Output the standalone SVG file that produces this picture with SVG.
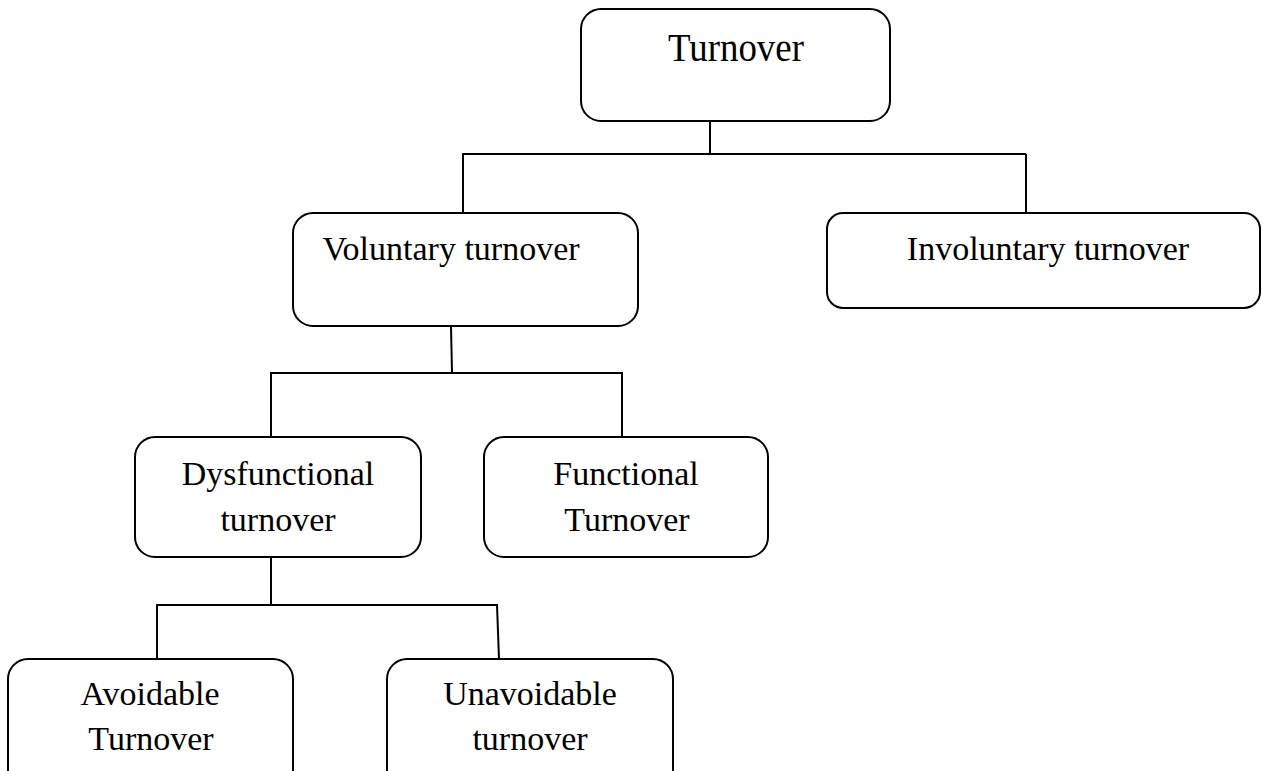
<svg xmlns="http://www.w3.org/2000/svg" width="1263" height="771" viewBox="0 0 1263 771">
<style>
.box{fill:#fff;stroke:#000;stroke-width:2}
.lbl{font-family:"Liberation Serif","Times New Roman",serif;font-size:34px;fill:#000;text-anchor:middle}
.conn line{stroke:#000;stroke-width:2;fill:none}
</style>
<rect width="1263" height="771" fill="#fff"/>
<g class="conn" id="connectors">
<line x1="710" y1="121" x2="710" y2="154"/>
<line x1="462" y1="154" x2="1026" y2="154"/>
<line x1="463" y1="154" x2="463" y2="213"/>
<line x1="1026" y1="154" x2="1026" y2="213"/>
<line x1="451" y1="326" x2="452" y2="373"/>
<line x1="270" y1="373" x2="623" y2="373"/>
<line x1="271" y1="373" x2="271" y2="437"/>
<line x1="622" y1="373" x2="622" y2="437"/>
<line x1="271" y1="557" x2="271" y2="605"/>
<line x1="156" y1="605" x2="498" y2="605"/>
<line x1="157" y1="605" x2="157" y2="659"/>
<line x1="497" y1="605" x2="499" y2="659"/>
</g>
<g id="turnover">
<rect class="box" x="581" y="9" width="309" height="112" rx="20"/>
<text class="lbl" x="0" y="0" transform="translate(736,61) scale(0.9,1)" style="font-size:41px">Turnover</text>
</g>
<g id="voluntary">
<rect class="box" x="293" y="213" width="345" height="113" rx="20"/>
<text class="lbl" x="451" y="260">Voluntary turnover</text>
</g>
<g id="involuntary">
<rect class="box" x="827" y="213" width="433" height="95" rx="16"/>
<text class="lbl" x="1048" y="260">Involuntary turnover</text>
</g>
<g id="dysfunctional">
<rect class="box" x="135" y="437" width="286" height="120" rx="20"/>
<text class="lbl" x="278" y="485">Dysfunctional</text>
<text class="lbl" x="278" y="531">turnover</text>
</g>
<g id="functional">
<rect class="box" x="484" y="437" width="284" height="120" rx="20"/>
<text class="lbl" x="626" y="485">Functional</text>
<text class="lbl" x="627" y="531">Turnover</text>
</g>
<g id="avoidable">
<rect class="box" x="8" y="659" width="285" height="140" rx="20"/>
<text class="lbl" x="150" y="705">Avoidable</text>
<text class="lbl" x="151" y="750">Turnover</text>
</g>
<g id="unavoidable">
<rect class="box" x="387" y="659" width="286" height="140" rx="20"/>
<text class="lbl" x="530" y="705">Unavoidable</text>
<text class="lbl" x="530" y="750">turnover</text>
</g>
</svg>
